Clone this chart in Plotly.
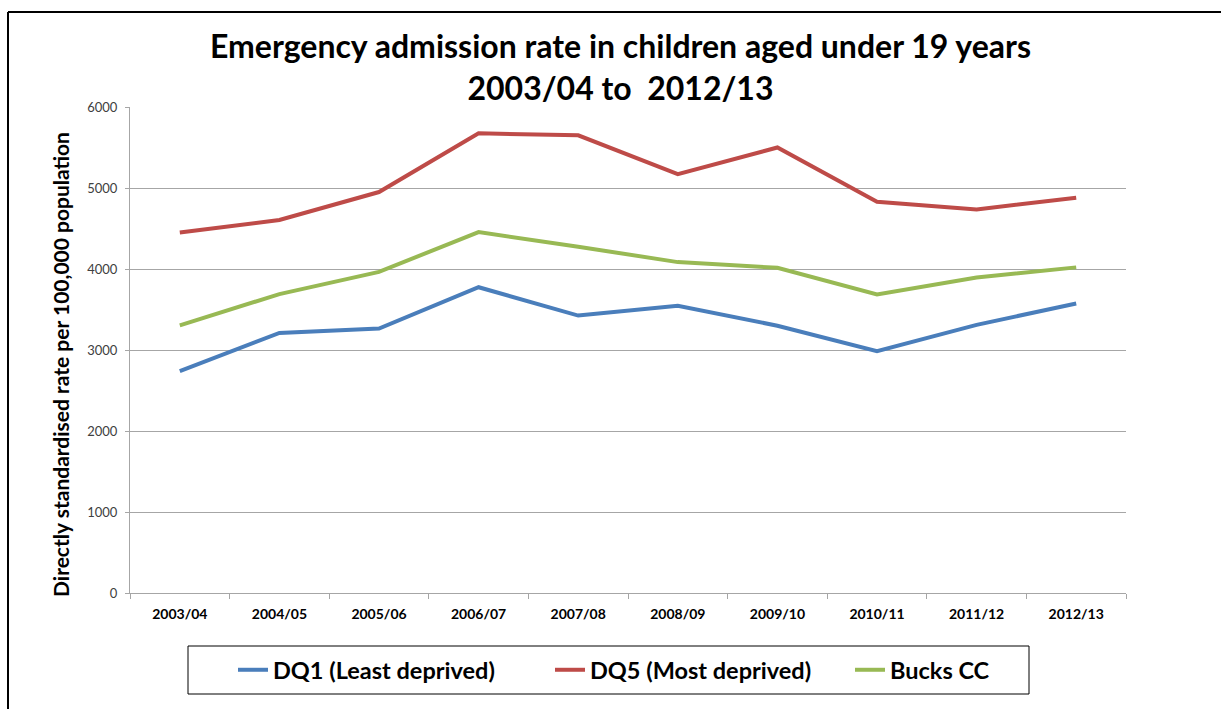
import plotly.graph_objects as go

years = ["2003/04", "2004/05", "2005/06", "2006/07", "2007/08",
         "2008/09", "2009/10", "2010/11", "2011/12", "2012/13"]
dq1 = [2740, 3210, 3265, 3775, 3425, 3545, 3300, 2985, 3310, 3575]
dq5 = [4450, 4605, 4950, 5675, 5650, 5170, 5500, 4830, 4735, 4880]
bucks = [3305, 3690, 3965, 4455, 4275, 4085, 4015, 3685, 3895, 4020]

names = ["DQ1 (Least deprived)", "DQ5 (Most deprived)", "Bucks CC"]
colors = ["#4A7EBB", "#BE4B48", "#98B954"]
series = [dq1, dq5, bucks]
legend_ids = ["legend", "legend2", "legend3"]
legend_left = [233, 550, 850]

FONT = "Lato"

fig = go.Figure()
for name, vals, col, lg in zip(names, series, colors, legend_ids):
    fig.add_trace(go.Scatter(x=years, y=vals, name=name, mode="lines",
                             line=dict(color=col, width=4), legend=lg))

W, H = 1221, 709
L, R, T, B = 130, 1126, 107, 593
pw, ph = R - L, B - T

def px(x):
    return (x - L) / pw

def py(y):
    return (B - y) / ph

legend_style = dict(orientation="h", xanchor="left", y=py(648), yanchor="top",
                    bgcolor="rgba(0,0,0,0)", borderwidth=0,
                    font=dict(size=23.5, family=FONT, color="#000000", weight="bold"),
                    itemwidth=30)

fig.update_layout(
    width=W, height=H,
    margin=dict(l=L, r=W - R, t=T, b=H - B),
    paper_bgcolor="white", plot_bgcolor="white",
    font=dict(family=FONT, color="#000000"),
    showlegend=True,
    xaxis=dict(type="category", range=[-0.5, 9.5], showgrid=False, showline=True,
               linecolor="#A6A6A6", linewidth=1,
               ticks="outside", tickson="boundaries", ticklen=5, tickcolor="#A6A6A6",
               tickfont=dict(size=14, family=FONT, color="#000000", weight="bold"),
               ticklabelstandoff=8, fixedrange=True),
    yaxis=dict(range=[0, 6000], tickvals=[0, 1000, 2000, 3000, 4000, 5000, 6000],
               showgrid=True, gridcolor="#A6A6A6", gridwidth=1,
               showline=True, linecolor="#A6A6A6", linewidth=1,
               ticks="outside", ticklen=4, tickcolor="#A6A6A6",
               tickfont=dict(size=13, family=FONT, color="#404040"),
               ticklabelstandoff=5, zeroline=False, fixedrange=True),
)
for lg, left in zip(legend_ids, legend_left):
    fig.update_layout({lg: dict(legend_style, x=px(left))})

fig.add_annotation(text="Emergency admission rate in children aged under 19 years<br>2003/04 to  2012/13",
                   xref="paper", yref="paper", x=px(620), y=py(67), xanchor="center", yanchor="middle",
                   showarrow=False, align="center",
                   font=dict(size=32, family=FONT, color="#000000", weight="bold"))

fig.add_annotation(text="Directly standardised rate per 100,000 population",
                   xref="paper", yref="paper", x=px(60), y=py(365), xanchor="center", yanchor="middle",
                   showarrow=False, textangle=-90,
                   font=dict(size=21, family=FONT, color="#000000", weight="bold"))

# legend border box
fig.add_shape(type="rect", xref="paper", yref="paper",
              x0=px(188), x1=px(1029), y0=py(694), y1=py(646),
              line=dict(color="#000000", width=1), fillcolor="rgba(0,0,0,0)")
# outer frame (top and left)
fig.add_shape(type="line", xref="paper", yref="paper",
              x0=px(8), x1=px(1221), y0=py(12), y1=py(12),
              line=dict(color="#000000", width=2))
fig.add_shape(type="line", xref="paper", yref="paper",
              x0=px(8), x1=px(8), y0=py(12), y1=py(709),
              line=dict(color="#000000", width=2))

fig.write_html("out.html", config={"displayModeBar": False},
               post_script="document.body.style.margin='0';")
